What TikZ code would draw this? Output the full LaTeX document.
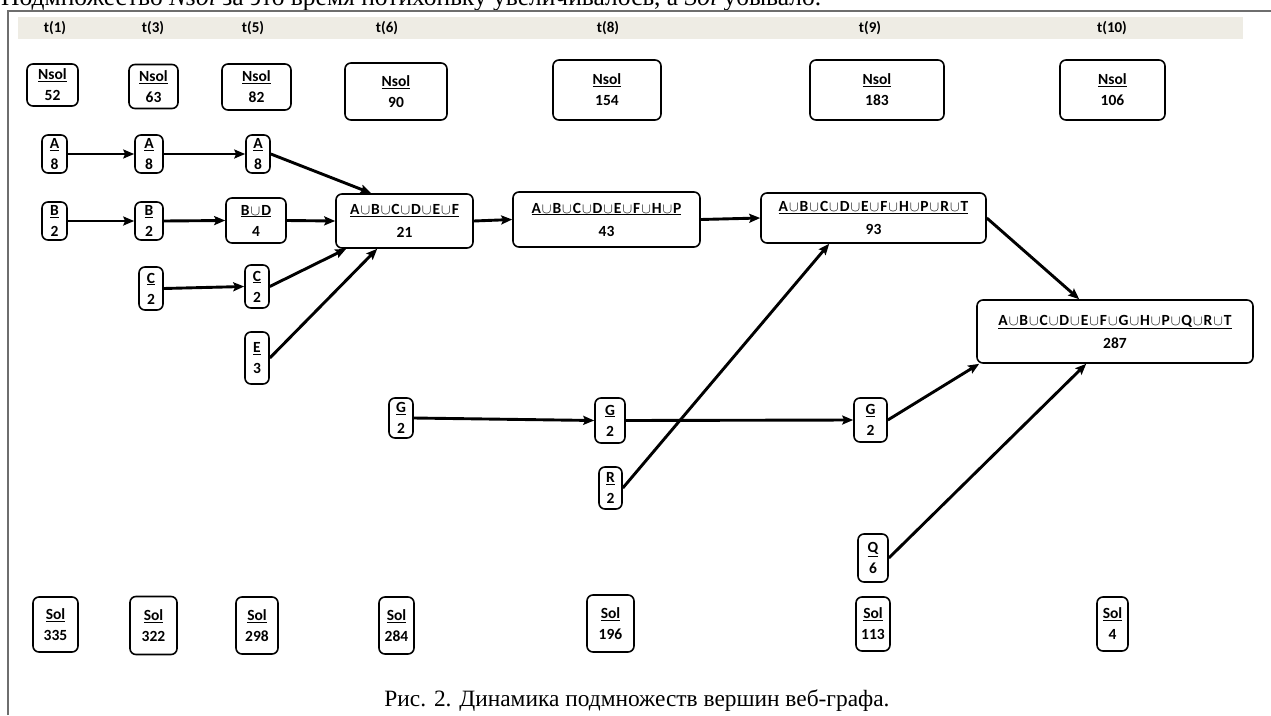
\documentclass[tikz,border=0pt]{standalone}
\usepackage{fontspec}
\setmainfont{Liberation Serif}
\newfontfamily\calibri{Carlito}
\usetikzlibrary{arrows.meta}
\newcommand\cupx{\kern1pt$\cup$\kern1pt}
\definecolor{band}{RGB}{238,236,228}
\definecolor{frame}{RGB}{110,110,110}
\tikzset{
  box/.style={draw, line width=1.6pt, rounded corners=6pt, inner sep=0pt, align=center,
    font=\calibri\bfseries\fontsize{15.5}{21}\selectfont},
  wide/.style={box, font=\calibri\bfseries\fontsize{15.5}{23}\selectfont},
  tlabel/.style={font=\calibri\bfseries\fontsize{15}{17}\selectfont, inner sep=0pt},
  arr/.style={line width=2.9pt, -{Stealth[length=11pt,width=9pt,inset=2pt]}},
}
\begin{document}
\begin{tikzpicture}[x=1pt,y=-1pt]
\useasboundingbox (0,0) rectangle (1271,715);
% text above the frame
\node[anchor=base west, inner sep=0pt, font=\fontsize{25.5}{28}\selectfont] (above) at (1,5)
  {Подмножество \textit{Nsol} за это время потихоньку увеличивалось, а \textit{Sol} убывало.};
% frame and time band
\draw[frame, line width=1.6pt] (8,715) -- (8,11) -- (1271,11);
\fill[band] (18,17) rectangle (1243,39);
\node[tlabel] (t1) at (55,28) {t(1)};
\node[tlabel] (t3) at (153,28) {t(3)};
\node[tlabel] (t5) at (253,28) {t(5)};
\node[tlabel] (t6) at (387,28) {t(6)};
\node[tlabel] (t8) at (608,28) {t(8)};
\node[tlabel] (t9) at (870,28) {t(9)};
\node[tlabel] (t10) at (1112,28) {t(10)};
% Nsol row
\node[box, minimum width=51, minimum height=42] (n1) at (52.5,85) {\underline{Nsol}\\52};
\node[box, minimum width=49, minimum height=44] (n3) at (153.5,86.5) {\underline{Nsol}\\63};
\node[box, minimum width=69, minimum height=46] (n5) at (256.5,87) {\underline{Nsol}\\82};
\node[box, minimum width=102, minimum height=57] (n6) at (396,91.5) {\underline{Nsol}\\90};
\node[box, minimum width=108, minimum height=60] (n8) at (607,90) {\underline{Nsol}\\154};
\node[box, minimum width=134, minimum height=60] (n9) at (877,90) {\underline{Nsol}\\183};
\node[box, minimum width=105, minimum height=60] (n10) at (1112.5,90) {\underline{Nsol}\\106};
% subsets
\node[box, minimum width=25, minimum height=38] (a1) at (54.5,154) {\underline{A}\\8};
\node[box, minimum width=28, minimum height=38] (a3) at (149,154) {\underline{A}\\8};
\node[box, minimum width=24, minimum height=38] (a5) at (258,154) {\underline{A}\\8};
\node[box, minimum width=25, minimum height=38] (b1) at (54.5,221) {\underline{B}\\2};
\node[box, minimum width=28, minimum height=38] (b3) at (149,221) {\underline{B}\\2};
\node[box, minimum width=60, minimum height=45] (bd5) at (256,220.5) {\underline{B\cupx D}\\4};
\node[box, minimum width=24, minimum height=43] (c3) at (151,288.5) {\underline{C}\\2};
\node[box, minimum width=24, minimum height=43] (c5) at (257,286.5) {\underline{C}\\2};
\node[box, minimum width=24, minimum height=52] (e5) at (257,358) {\underline{E}\\3};
\node[wide, minimum width=137, minimum height=54] (u6) at (404.5,221)
  {\underline{A\cupx B\cupx C\cupx D\cupx E\cupx F}\\21};
\node[wide, minimum width=187, minimum height=55] (u8) at (606.5,219.5)
  {\underline{A\cupx B\cupx C\cupx D\cupx E\cupx F\cupx H\cupx P}\\43};
\node[wide, minimum width=225, minimum height=50] (u9) at (873.5,218)
  {\underline{A\cupx B\cupx C\cupx D\cupx E\cupx F\cupx H\cupx P\cupx R\cupx T}\\93};
\node[wide, minimum width=276, minimum height=63] (u10) at (1115,331.5)
  {\underline{A\cupx B\cupx C\cupx D\cupx E\cupx F\cupx G\cupx H\cupx P\cupx Q\cupx R\cupx T}\\287};
\node[box, minimum width=24, minimum height=40] (g6) at (401,418) {\underline{G}\\2};
\node[box, minimum width=30, minimum height=45] (g8) at (610,420.5) {\underline{G}\\2};
\node[box, minimum width=33, minimum height=44] (g9) at (870.5,420) {\underline{G}\\2};
\node[box, minimum width=23, minimum height=42] (r8) at (610.5,488) {\underline{R}\\2};
\node[box, minimum width=30, minimum height=48] (q9) at (873,558) {\underline{Q}\\6};
% Sol row
\node[box, minimum width=45, minimum height=55] (s1) at (55.5,624.5) {\underline{Sol}\\335};
\node[box, minimum width=47, minimum height=58] (s3) at (153.5,625.5) {\underline{Sol}\\322};
\node[box, minimum width=42, minimum height=57] (s5) at (257,625.5) {\underline{Sol}\\298};
\node[box, minimum width=35, minimum height=57] (s6) at (396.5,625.5) {\underline{Sol}\\284};
\node[box, minimum width=47, minimum height=57] (s8) at (610.5,623.5) {\underline{Sol}\\196};
\node[box, minimum width=34, minimum height=54] (s9) at (873,624) {\underline{Sol}\\113};
\node[box, minimum width=31, minimum height=54] (s10) at (1112.5,624) {\underline{Sol}\\4};
% caption
\node[font=\fontsize{23.4}{26}\selectfont, inner sep=0pt] (cap) at (637,701)
  {Рис. 2. Динамика подмножеств вершин веб-графа.};
% transitions
\draw[arr] (a1.east) -- (a3.west);
\draw[arr] (a3.east) -- (a5.west);
\draw[arr] (a5.east) -- ([xshift=36pt]u6.north west);
\draw[arr] (b1.east) -- (b3.west);
\draw[arr] (b3.east) -- (bd5.west);
\draw[arr] (bd5.east) -- (u6.west);
\draw[arr] (c3.east) -- (c5.west);
\draw[arr] (c5.east) -- ([xshift=11pt]u6.south west);
\draw[arr] (e5.east) -- ([xshift=42pt]u6.south west);
\draw[arr] (u6.east) -- (u8.west);
\draw[arr] (u8.east) -- (u9.west);
\draw[arr] (u9.east) -- ([xshift=103pt]u10.north west);
\draw[arr] (r8.east) -- ([xshift=69pt]u9.south west);
\draw[arr] (g6.east) -- (g8.west);
\draw[arr] (g8.east) -- (g9.west);
\draw[arr] (g9.east) -- ([xshift=3pt]u10.south west);
\draw[arr] (q9.east) -- ([xshift=110pt]u10.south west);
\end{tikzpicture}
\end{document}
